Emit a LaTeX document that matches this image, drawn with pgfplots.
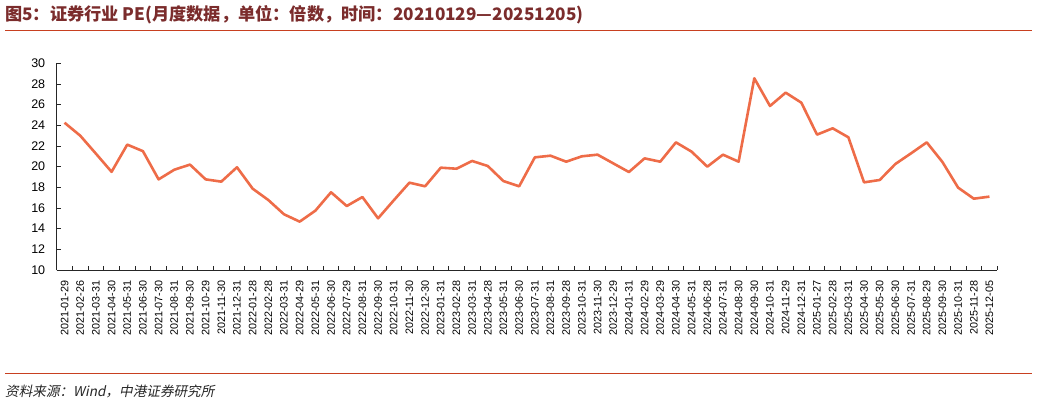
\documentclass[border=0pt]{standalone}
\usepackage{pgfplots}
\pgfplotsset{compat=1.18}
\usepackage{fontspec}
\setmainfont{Liberation Sans}
\newfontfamily\cjk{Noto Sans CJK SC}
\newfontfamily\cjkit[FakeSlant=0.2]{Noto Sans CJK SC}
\definecolor{linec}{HTML}{EE6C48}
\definecolor{titlec}{HTML}{7B2C2C}
\definecolor{rulec}{HTML}{C84020}
\begin{document}
\begin{tikzpicture}[x=1pt,y=1pt]
\path[use as bounding box] (0,0) rectangle (1037,-403);
\node[anchor=west, text=titlec, font=\cjk\bfseries\fontsize{17.2}{18}\selectfont, inner sep=0pt] at (5,-15) {图5：证券行业 PE(月度数据，单位：倍数，时间：20210129—20251205)};
\draw[rulec, line width=1pt] (5,-31) -- (1032,-31);
\draw[rulec, line width=1pt] (5,-374) -- (1032,-374);
\node[anchor=west, text=black!85, font=\cjkit\fontsize{13.6}{15}\selectfont, inner sep=0pt] at (5,-391) {资料来源：Wind，中港证券研究所};
\begin{axis}[
  at={(56.7pt,-270pt)}, anchor=south west,
  scale only axis, width=940.6pt, height=206.7pt,
  xmin=-0.5, xmax=59.5, ymin=10, ymax=30,
  ytick={10,12,...,30},
  axis x line*=bottom, axis y line*=left,
  axis line style={black!85, line width=0.8pt},
  tick align=inside,
  major tick length=4pt, minor tick length=4pt,
  every tick/.style={black!85, line width=0.8pt},
  xtick={0,...,59},
  major x tick style={draw=none},
  minor xtick={-0.5,0.5,...,59.5},
  xticklabels={2021-01-29,2021-02-26,2021-03-31,2021-04-30,2021-05-31,2021-06-30,2021-07-30,2021-08-31,2021-09-30,2021-10-29,2021-11-30,2021-12-31,
  2022-01-28,2022-02-28,2022-03-31,2022-04-29,2022-05-31,2022-06-30,2022-07-29,2022-08-31,2022-09-30,2022-10-31,2022-11-30,2022-12-30,
  2023-01-31,2023-02-28,2023-03-31,2023-04-28,2023-05-31,2023-06-30,2023-07-31,2023-08-31,2023-09-28,2023-10-31,2023-11-30,2023-12-29,
  2024-01-31,2024-02-29,2024-03-29,2024-04-30,2024-05-31,2024-06-28,2024-07-31,2024-08-30,2024-09-30,2024-10-31,2024-11-29,2024-12-31,
  2025-01-27,2025-02-28,2025-03-31,2025-04-30,2025-05-30,2025-06-30,2025-07-31,2025-08-29,2025-09-30,2025-10-31,2025-11-28,2025-12-05},
  x tick label style={rotate=90, anchor=east, font=\fontsize{10.8}{11}\selectfont, xshift=-7pt},
  y tick label style={font=\fontsize{12.5}{13}\selectfont, xshift=-8pt},
  /pgf/number format/assume math mode=true,
  clip=false,
]
\addplot[linec, line width=2.6pt, line join=round] coordinates {
(0,24.25) (1,23.0) (2,21.26) (3,19.5) (4,22.13) (5,21.5) (6,18.77) (7,19.7) (8,20.2) (9,18.77)
(10,18.55) (11,19.94) (12,17.87) (13,16.77) (14,15.39) (15,14.68) (16,15.74) (17,17.52) (18,16.19) (19,17.06)
(20,15.0) (21,16.74) (22,18.45) (23,18.1) (24,19.9) (25,19.8) (26,20.55) (27,20.06) (28,18.6) (29,18.1)
(30,20.9) (31,21.06) (32,20.48) (33,21.0) (34,21.16) (35,20.32) (36,19.48) (37,20.8) (38,20.48) (39,22.35)
(40,21.45) (41,20.0) (42,21.16) (43,20.48) (44,28.55) (45,25.87) (46,27.16) (47,26.19) (48,23.1) (49,23.71)
(50,22.84) (51,18.48) (52,18.71) (53,20.26) (54,21.29) (55,22.35) (56,20.45) (57,17.97) (58,16.9) (59,17.1)
};
\end{axis}
\end{tikzpicture}
\end{document}
